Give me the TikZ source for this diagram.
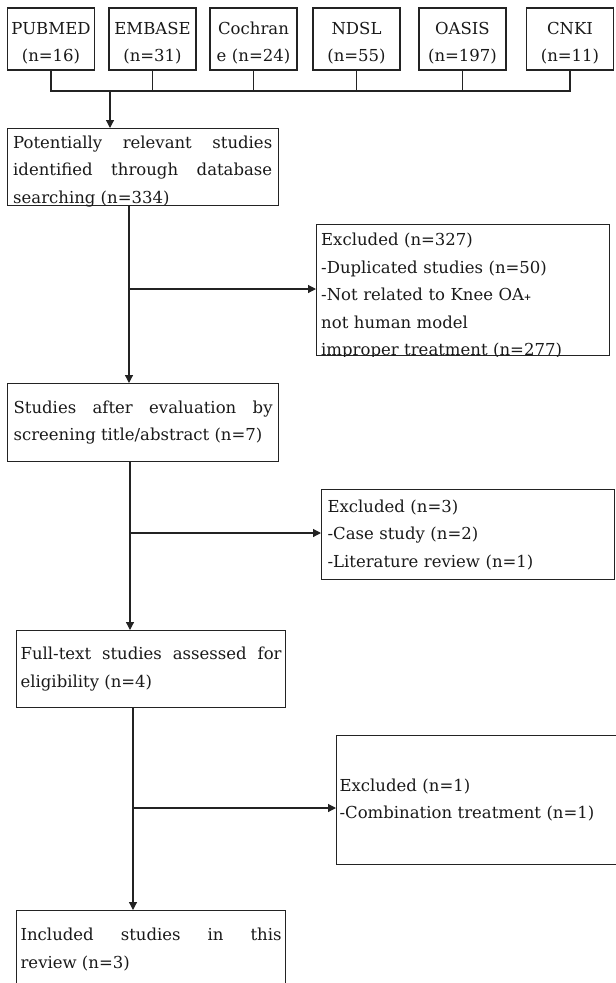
\documentclass[tikz,border=0pt]{standalone}
\usepackage{fontspec}
\setmainfont{DejaVu Serif}
\usepackage{xcolor}
\usetikzlibrary{arrows.meta}
\definecolor{cLine}{RGB}{35,35,35}
\definecolor{cText}{RGB}{25,25,25}

\begin{document}
\begin{tikzpicture}[x=1pt,y=-1pt,
  font=\fontsize{16.5}{27.5}\selectfont,
  srcbox/.style={draw=cLine,line width=1.2pt,minimum width=87pt,minimum height=62pt,
    text width=84pt,align=center,inner sep=0pt,text=cText},
  stagebox/.style={draw=cLine,line width=1.2pt,anchor=north west,inner ysep=0pt,text=cText},
  bodytxt/.style={inner sep=0pt,anchor=west,align=justify,text=cText},
  listtxt/.style={inner sep=0pt,anchor=west,align=left,text=cText},
  link/.style={draw=cLine,line width=1.2pt},
  arr/.style={link,-{Triangle[length=8pt,width=8pt]}}]
 \useasboundingbox (0,0) rectangle (616,983);
 % ---- databases ----
 \foreach \src/\cx/\txt in {pubmed/51/{PUBMED\\(n=16)},embase/152.5/{EMBASE\\(n=31)},
   cochrane/253.5/{Cochran\\e (n=24)},ndsl/356.5/{NDSL\\(n=55)},
   oasis/462.5/{OASIS\\(n=197)},cnki/570/{CNKI\\(n=11)}}
   \node[srcbox] (\src) at (\cx,39) {\rule{0pt}{21pt}\txt};
 \coordinate (bus) at (110,91);
 \draw[link] (pubmed.south) -- (pubmed.south |- bus) -- (cnki.south |- bus) -- (cnki.south);
 \foreach \src in {embase,cochrane,ndsl,oasis}
   \draw[link] (\src.south) -- (\src.south |- bus);
 % ---- identification ----
 \node[stagebox,minimum width=271pt,minimum height=77pt] (search) at (7,128) {};
 \begin{scope}
   \clip (search.north west) rectangle (search.south east);
   \node[bodytxt,text width=259pt] (searchtxt) at ([xshift=6pt,yshift=-4pt]search.west)
        {Potentially relevant studies identified through database searching (n=334)};
 \end{scope}
 \node[stagebox,minimum width=293pt,minimum height=131pt] (exclsearch) at (316,224) {};
 \begin{scope}
   \clip (exclsearch.north west) rectangle (exclsearch.south east);
   \node[listtxt,text width=282pt] (exclsearchtxt) at ([xshift=5pt,yshift=-6pt]exclsearch.west)
        {Excluded (n=327)\\-Duplicated studies (n=50)\\-Not related to Knee OA{\small\bfseries+}\\not human model\\improper treatment (n=277)};
 \end{scope}
 % ---- screening ----
 \node[stagebox,minimum height=78pt,inner xsep=6pt,text width=259pt,align=justify] (screen) at (7,383)
      {Studies after evaluation by screening title/abstract (n=7)};
 \node[stagebox,minimum height=90pt,inner xsep=6pt,text width=281pt,align=left] (exclscreen) at (321,489)
      {Excluded (n=3)\\-Case study (n=2)\\-Literature review (n=1)};
 % ---- eligibility ----
 \node[stagebox,minimum height=77pt,inner xsep=4pt,text width=261pt,align=justify] (fulltext) at (16,630)
      {Full-text studies assessed for eligibility (n=4)};
 \node[stagebox,minimum height=129pt,inner xsep=3pt,text width=290pt,align=left] (exclfull) at (336,735)
      {Excluded (n=1)\\-Combination treatment (n=1)};
 % ---- included ----
 \node[stagebox,minimum height=78pt,inner xsep=4pt,text width=261pt,align=justify] (included) at (16,910)
      {Included studies in this\linebreak review (n=3)};
 % arrows
 \coordinate (jA) at (129,289);
 \coordinate (jB) at (130,533);
 \coordinate (jC) at (133,808);
 \draw[arr] (bus) -- (bus |- search.north);
 \draw[arr] (search.south -| jA) -- (screen.north -| jA);
 \draw[arr] (jA) -- (jA -| exclsearch.west);
 \draw[arr] (screen.south -| jB) -- (fulltext.north -| jB);
 \draw[arr] (jB) -- (jB -| exclscreen.west);
 \draw[arr] (fulltext.south -| jC) -- (included.north -| jC);
 \draw[arr] (jC) -- (jC -| exclfull.west);
\end{tikzpicture}
\end{document}
